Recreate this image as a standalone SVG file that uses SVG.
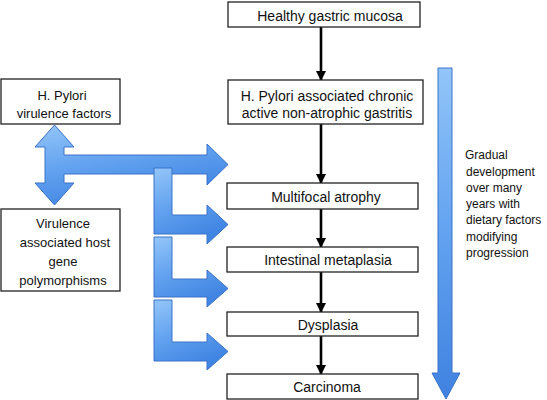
<svg xmlns="http://www.w3.org/2000/svg" width="547" height="400" viewBox="0 0 547 400">
<defs>
<linearGradient id="bg" x1="0" y1="0" x2="0" y2="1">
<stop offset="0" stop-color="#92c5f8"/>
<stop offset="0.5" stop-color="#62a2f0"/>
<stop offset="1" stop-color="#3f82e0"/>
</linearGradient>
<linearGradient id="bgv" x1="0" y1="0" x2="0.4" y2="1">
<stop offset="0" stop-color="#94c6f8"/>
<stop offset="0.5" stop-color="#64a3f0"/>
<stop offset="1" stop-color="#4085e2"/>
</linearGradient>
<marker id="ah" markerWidth="10" markerHeight="10" refX="9" refY="5" orient="auto" markerUnits="userSpaceOnUse">
<path d="M0,0 L10,5 L0,10 Z" fill="#000"/>
</marker>
<style>
.box{fill:#fff;stroke:#222;stroke-width:1.3}
.t{font-family:"Liberation Sans",Arial,sans-serif;font-size:14px;fill:#111;text-anchor:middle;dominant-baseline:central}
.l{font-family:"Liberation Sans",Arial,sans-serif;font-size:13px;fill:#111;text-anchor:middle;dominant-baseline:central}
.s{font-family:"Liberation Sans",Arial,sans-serif;font-size:12px;fill:#111}
.blue{fill:url(#bgv);stroke:#3a72c8;stroke-width:1}
.con{stroke:#000;stroke-width:2.6;fill:none;marker-end:url(#ah)}
</style>
</defs>
<g id="connectors">
<line class="con" x1="321" y1="27" x2="321" y2="80"/>
<line class="con" x1="321" y1="124" x2="321" y2="183"/>
<line class="con" x1="321" y1="209" x2="321" y2="247"/>
<line class="con" x1="321" y1="272" x2="321" y2="312"/>
<line class="con" x1="321" y1="336" x2="321" y2="374"/>
<path class="blue" d="M54.5,125 L74,147 L64,147 L64,155 L207,155 L207,144 L228,164.5 L207,185 L207,174 L64,174 L64,183 L74,183 L54.5,205 L35,183 L45,183 L45,147 L35,147 Z"/>
<path class="blue" d="M154,168 H172 V215 H207 V205 L228,224.5 L207,244 V234 H154 Z"/>
<path class="blue" d="M154,237 H172 V279 H207 V270 L228,288.5 L207,307 V297 H154 Z"/>
<path class="blue" d="M154,300 H172 V342 H207 V333 L228,351.5 L207,370 V361 H154 Z"/>
<path fill="url(#bg)" stroke="#3a72c8" stroke-width="1" d="M438,68 H452 V373 H460 L446,399 L432,373 H438 Z"/>
</g>
<g id="healthy">
<rect class="box" x="228" y="2" width="192" height="25"/>
<text class="t" x="330" y="15.5">Healthy gastric mucosa</text>
</g>
<g id="chronic">
<rect class="box" x="228" y="80" width="195" height="44"/>
<text class="t" x="327" y="96">H. Pylori associated chronic</text>
<text class="t" x="327" y="113">active non-atrophic gastritis</text>
</g>
<g id="multifocal">
<rect class="box" x="227" y="183" width="191" height="26"/>
<text class="t" x="326" y="196.5">Multifocal atrophy</text>
</g>
<g id="intestinal">
<rect class="box" x="227" y="247" width="191" height="25"/>
<text class="t" x="328" y="260">Intestinal metaplasia</text>
</g>
<g id="dysplasia">
<rect class="box" x="227" y="312" width="191" height="24"/>
<text class="t" x="328" y="324.5">Dysplasia</text>
</g>
<g id="carcinoma">
<rect class="box" x="227" y="374" width="191" height="25"/>
<text class="t" x="327" y="387">Carcinoma</text>
</g>
<g id="virulence-factors">
<rect class="box" x="1" y="79" width="119" height="45"/>
<text class="l" x="62" y="95">H. Pylori</text>
<text class="l" x="64" y="113">virulence factors</text>
</g>
<g id="host-gene">
<rect class="box" x="1" y="209" width="119" height="82"/>
<text class="l" x="63" y="223">Virulence</text>
<text class="l" x="65" y="242">associated host</text>
<text class="l" x="63" y="261">gene</text>
<text class="l" x="63" y="280">polymorphisms</text>
</g>
<g id="gradual">
<text class="s" x="465" y="159">Gradual</text>
<text class="s" x="466" y="176">development</text>
<text class="s" x="466" y="192">over many</text>
<text class="s" x="466" y="208">years with</text>
<text class="s" x="466" y="224">dietary factors</text>
<text class="s" x="466" y="241">modifying</text>
<text class="s" x="466" y="257">progression</text>
</g>
</svg>
